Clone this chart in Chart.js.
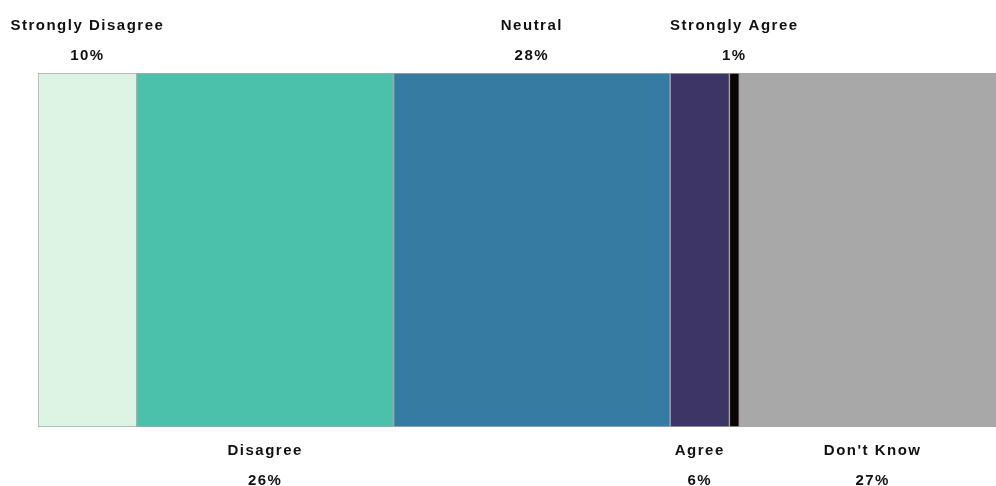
<!DOCTYPE html>
<html>
<head>
<meta charset="utf-8">
<script src="https://cdn.jsdelivr.net/npm/chart.js@4/dist/chart.umd.min.js"></script>
<style>
  html, body { margin: 0; padding: 0; background: #ffffff; overflow: hidden; }
  #wrap { width: 1006px; height: 486px; }
</style>
</head>
<body>
<div id="wrap"><canvas id="chart" width="1006" height="486"></canvas></div>
<script>
// Survey response shares (percent), one stacked bar
const categories = ['Strongly Disagree', 'Disagree', 'Neutral', 'Agree', 'Strongly Agree', "Don't Know"];
const percentages = [10, 26, 28, 6, 1, 27];
const segmentColors = ['#ddf3e3', '#4bc1ab', '#367ba2', '#3d3566', '#0b0405', '#a8a8a8'];
const barLabel = ['Responses'];

const total = percentages.reduce((a, b) => a + b, 0);

// Labels alternate above / below the bar, centred on each segment
const segmentLabels = {
  id: 'segmentLabels',
  afterDatasetsDraw(chart) {
    const ctx = chart.ctx;
    const area = chart.chartArea;
    ctx.save();
    ctx.font = 'bold 15px "Liberation Sans", Arial, sans-serif';
    ctx.fillStyle = '#111111';
    ctx.textAlign = 'center';
    ctx.textBaseline = 'alphabetic';
    if ('letterSpacing' in ctx) ctx.letterSpacing = '1.5px';
    chart.data.datasets.forEach((ds, i) => {
      const el = chart.getDatasetMeta(i).data[0];
      const cx = (el.x + el.base) / 2;
      const name = ds.label;
      const pct = ds.data[0] + '%';
      if (i % 2 === 0) {
        ctx.fillText(name, cx, area.top - 43);
        ctx.fillText(pct, cx, area.top - 13);
      } else {
        ctx.fillText(name, cx, area.bottom + 28);
        ctx.fillText(pct, cx, area.bottom + 58);
      }
    });
    ctx.restore();
  }
};

new Chart(document.getElementById('chart'), {
  type: 'bar',
  data: {
    labels: barLabel,
    datasets: categories.map((c, i) => ({
      label: c,
      data: [percentages[i]],
      backgroundColor: segmentColors[i],
      borderColor: 'rgba(140,140,140,0.75)',
      borderWidth: 1,
      borderSkipped: false,
      barPercentage: 1,
      categoryPercentage: 1
    }))
  },
  options: {
    indexAxis: 'y',
    responsive: false,
    animation: false,
    layout: { padding: { left: 38, right: 0, top: 73, bottom: 59 } },
    scales: {
      x: { stacked: true, min: 0, max: total, display: false },
      y: { stacked: true, display: false }
    },
    plugins: {
      legend: { display: false },
      tooltip: { enabled: false }
    }
  },
  plugins: [segmentLabels]
});
</script>
</body>
</html>
